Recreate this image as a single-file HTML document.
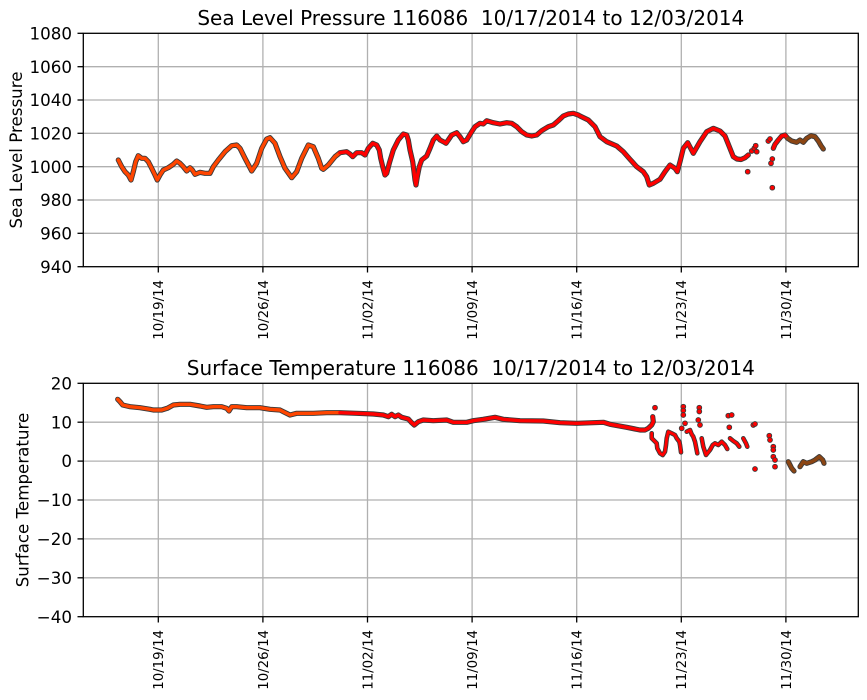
<!DOCTYPE html>
<html><head><meta charset="utf-8"><style>
html,body{margin:0;padding:0;background:#fff;}
svg{display:block;}
text{font-family:"DejaVu Sans","Liberation Sans",sans-serif;fill:#000;}
.g{stroke:#b0b0b0;stroke-width:1.3;}
.sp{stroke:#000;stroke-width:1.3;fill:none;}
.tk{stroke:#000;stroke-width:1.3;}
.o{fill:none;stroke:#3a3a3a;stroke-width:5.2;stroke-linejoin:round;stroke-linecap:round;}
.i{fill:none;stroke-width:3.4;stroke-linejoin:round;stroke-linecap:round;}
.os{fill:none;stroke:#3a3a3a;stroke-width:4.6;stroke-linejoin:round;stroke-linecap:round;}
.is{fill:none;stroke:#ff0000;stroke-width:2.8;stroke-linejoin:round;stroke-linecap:round;}
.d{fill:#ff0000;stroke:#3a3a3a;stroke-width:0.9;}
.yt{font-size:16.7px;text-anchor:end;}
.xt{font-size:13.3px;text-anchor:end;}
.ti{font-size:20px;text-anchor:middle;white-space:pre;}
.yl{font-size:16.7px;text-anchor:middle;}
</style></head><body>
<svg width="867" height="700" viewBox="0 0 867 700" xmlns="http://www.w3.org/2000/svg">
<rect width="867" height="700" fill="#fff"/>

<!-- ===== TOP AXES ===== -->
<g>
<line class="g" x1="83.3" y1="66.7" x2="858.3" y2="66.7"/>
<line class="g" x1="83.3" y1="100" x2="858.3" y2="100"/>
<line class="g" x1="83.3" y1="133.3" x2="858.3" y2="133.3"/>
<line class="g" x1="83.3" y1="166.7" x2="858.3" y2="166.7"/>
<line class="g" x1="83.3" y1="200" x2="858.3" y2="200"/>
<line class="g" x1="83.3" y1="233.3" x2="858.3" y2="233.3"/>
<line class="g" x1="158.3" y1="33.3" x2="158.3" y2="266.7"/>
<line class="g" x1="262.9" y1="33.3" x2="262.9" y2="266.7"/>
<line class="g" x1="367.5" y1="33.3" x2="367.5" y2="266.7"/>
<line class="g" x1="472.1" y1="33.3" x2="472.1" y2="266.7"/>
<line class="g" x1="576.7" y1="33.3" x2="576.7" y2="266.7"/>
<line class="g" x1="681.3" y1="33.3" x2="681.3" y2="266.7"/>
<line class="g" x1="785.9" y1="33.3" x2="785.9" y2="266.7"/>

<polyline class="o" points="118.3,160 121.7,166.7 125,171.7 128.3,175 131,180 133.3,171.7 135.7,161.7 138.3,155.7 141.7,158.3 145,158.3 148.3,161.7 151.7,168.3 155,175 157.3,180 160,175 163.3,170 168.3,167.7 173.3,164.3 176.7,161 180,163.3 183.3,166.7 186.7,171 190,167.7 192.3,170 195,174.3 200,172.3 205,173.3 210,173.3 213.3,166.7 218.3,160 225,151.7 231.7,145.7 236.7,145 240,148.3 245,158.3 251.7,171 256.7,163.3 261.7,148.3 266.7,139 270,137.7 275,143.3 280,156.7 285,168.3 291.7,177.7 296.7,171.7 301.7,158.3 308.3,145 313.3,146.7 318.3,158.3 321.7,168.3 323.3,169.3 328.3,165 335,156.7 340,152.7 346.7,151.7 350,154 352.7,156.7 356.7,152.7 361.7,152.7 365,155 368.3,148.3 372.7,143.3 376.7,145 379.3,150 380.7,158.3 382.7,166.7 385,175 386.7,173.3 389.3,163.3 393.3,150 398.3,140 403.3,134 406.7,135 408.3,140 410,150 412.7,161.7 414,171.7 415,180 416,185 417.3,176.7 419.3,166.7 421.7,160 426.7,156 430,148.3 433.3,140 436.7,136 440,140 443.3,141.7 446,143.3 448.3,140 451.7,135 456.7,132.7 460,136.7 463.3,141.7 466.7,140 471.7,131.7 475,126.7 480,123.3 483.3,124 486.7,120.7 493.3,122.7 500,124 506.7,122.7 511.7,123.3 516.7,126.7 521.7,131.7 526.7,135 531.7,136 536.7,135 541.7,130.7 548.3,126.7 553.3,125 558.3,120.7 563.3,116 568.3,114 573.3,113.3 578.3,115 580,116 588.3,120 595,126.7 600,136.7 606.7,141.7 616.7,146 623.3,151.7 630,159.3 636.7,166.7 643.3,171.7 646.7,176.7 649.3,185 653.3,183.3 660,179.3 665,171.7 670,165 675,168.3 677.3,171.7 680,161.7 683.3,148.3 687.7,142.7 693.3,153.3 700,141.7 706.7,131.7 713.3,128.3 720,131 725,136 729.3,146.7 733.3,156.7 737,159 741,159.5 745,157.7 748.3,155"/>
<polyline class="o" points="773.3,148.3 775,144.3 778.3,140 781.7,136 785,135 787.7,138.3 791.7,141 796.7,142.3 800,140 803.3,142.3 806.7,138.3 811,135.7 815,136.7 818.3,141 821,145.7 823.3,149"/>
<polyline class="i" stroke="#ff4500" points="118.3,160 121.7,166.7 125,171.7 128.3,175 131,180 133.3,171.7 135.7,161.7 138.3,155.7 141.7,158.3 145,158.3 148.3,161.7 151.7,168.3 155,175 157.3,180 160,175 163.3,170 168.3,167.7 173.3,164.3 176.7,161 180,163.3 183.3,166.7 186.7,171 190,167.7 192.3,170 195,174.3 200,172.3 205,173.3 210,173.3 213.3,166.7 218.3,160 225,151.7 231.7,145.7 236.7,145 240,148.3 245,158.3 251.7,171 256.7,163.3 261.7,148.3 266.7,139 270,137.7 275,143.3 280,156.7 285,168.3 291.7,177.7 296.7,171.7 301.7,158.3 308.3,145 313.3,146.7 318.3,158.3 321.7,168.3 323.3,169.3 328.3,165 335,156.7 340,152.7"/>
<polyline class="i" stroke="#ff0000" points="340,152.7 346.7,151.7 350,154 352.7,156.7 356.7,152.7 361.7,152.7 365,155 368.3,148.3 372.7,143.3 376.7,145 379.3,150 380.7,158.3 382.7,166.7 385,175 386.7,173.3 389.3,163.3 393.3,150 398.3,140 403.3,134 406.7,135 408.3,140 410,150 412.7,161.7 414,171.7 415,180 416,185 417.3,176.7 419.3,166.7 421.7,160 426.7,156 430,148.3 433.3,140 436.7,136 440,140 443.3,141.7 446,143.3 448.3,140 451.7,135 456.7,132.7 460,136.7 463.3,141.7 466.7,140 471.7,131.7 475,126.7 480,123.3 483.3,124 486.7,120.7 493.3,122.7 500,124 506.7,122.7 511.7,123.3 516.7,126.7 521.7,131.7 526.7,135 531.7,136 536.7,135 541.7,130.7 548.3,126.7 553.3,125 558.3,120.7 563.3,116 568.3,114 573.3,113.3 578.3,115 580,116 588.3,120 595,126.7 600,136.7 606.7,141.7 616.7,146 623.3,151.7 630,159.3 636.7,166.7 643.3,171.7 646.7,176.7 649.3,185 653.3,183.3 660,179.3 665,171.7 670,165 675,168.3 677.3,171.7 680,161.7 683.3,148.3 687.7,142.7 693.3,153.3 700,141.7 706.7,131.7 713.3,128.3 720,131 725,136 729.3,146.7 733.3,156.7 737,159 741,159.5 745,157.7 748.3,155"/>
<polyline class="i" stroke="#ff0000" points="773.3,148.3 775,144.3 778.3,140 781.7,136 785,135 787.7,138.3"/>
<polyline class="i" stroke="#8b4513" points="787.7,138.3 791.7,141 796.7,142.3 800,140 803.3,142.3 806.7,138.3 811,135.7 815,136.7 818.3,141 821,145.7 823.3,149"/>
<circle class="d" cx="747.7" cy="171.7" r="2.4"/>
<circle class="d" cx="751.7" cy="151" r="2.4"/>
<circle class="d" cx="754.3" cy="148.3" r="2.4"/>
<circle class="d" cx="755.7" cy="145.7" r="2.4"/>
<circle class="d" cx="756.7" cy="151.7" r="2.4"/>
<circle class="d" cx="768.3" cy="141" r="2.4"/>
<circle class="d" cx="770" cy="139" r="2.4"/>
<circle class="d" cx="772.3" cy="159" r="2.4"/>
<circle class="d" cx="771" cy="163.3" r="2.4"/>
<circle class="d" cx="772.3" cy="187.7" r="2.4"/>

<rect class="sp" x="83.3" y="33.3" width="775" height="233.4"/>
<line class="tk" x1="77.5" y1="33.3" x2="83.3" y2="33.3"/>
<line class="tk" x1="77.5" y1="66.7" x2="83.3" y2="66.7"/>
<line class="tk" x1="77.5" y1="100" x2="83.3" y2="100"/>
<line class="tk" x1="77.5" y1="133.3" x2="83.3" y2="133.3"/>
<line class="tk" x1="77.5" y1="166.7" x2="83.3" y2="166.7"/>
<line class="tk" x1="77.5" y1="200" x2="83.3" y2="200"/>
<line class="tk" x1="77.5" y1="233.3" x2="83.3" y2="233.3"/>
<line class="tk" x1="77.5" y1="266.7" x2="83.3" y2="266.7"/>
<text class="yt" x="72" y="39.4">1080</text>
<text class="yt" x="72" y="72.8">1060</text>
<text class="yt" x="72" y="106.1">1040</text>
<text class="yt" x="72" y="139.4">1020</text>
<text class="yt" x="72" y="172.8">1000</text>
<text class="yt" x="72" y="206.1">980</text>
<text class="yt" x="72" y="239.4">960</text>
<text class="yt" x="72" y="272.8">940</text>
<line class="tk" x1="158.3" y1="266.7" x2="158.3" y2="272.5"/>
<line class="tk" x1="262.9" y1="266.7" x2="262.9" y2="272.5"/>
<line class="tk" x1="367.5" y1="266.7" x2="367.5" y2="272.5"/>
<line class="tk" x1="472.1" y1="266.7" x2="472.1" y2="272.5"/>
<line class="tk" x1="576.7" y1="266.7" x2="576.7" y2="272.5"/>
<line class="tk" x1="681.3" y1="266.7" x2="681.3" y2="272.5"/>
<line class="tk" x1="785.9" y1="266.7" x2="785.9" y2="272.5"/>
<text class="xt" transform="translate(163.2,280) rotate(-90)">10/19/14</text>
<text class="xt" transform="translate(267.8,280) rotate(-90)">10/26/14</text>
<text class="xt" transform="translate(372.4,280) rotate(-90)">11/02/14</text>
<text class="xt" transform="translate(477,280) rotate(-90)">11/09/14</text>
<text class="xt" transform="translate(581.6,280) rotate(-90)">11/16/14</text>
<text class="xt" transform="translate(686.2,280) rotate(-90)">11/23/14</text>
<text class="xt" transform="translate(790.8,280) rotate(-90)">11/30/14</text>
<text class="ti" x="470.8" y="25">Sea Level Pressure 116086&#160; 10/17/2014 to 12/03/2014</text>
<text class="yl" transform="translate(22,150) rotate(-90)">Sea Level Pressure</text>
</g>

<!-- ===== BOTTOM AXES ===== -->
<g>
<line class="g" x1="83.3" y1="422.2" x2="858.3" y2="422.2"/>
<line class="g" x1="83.3" y1="461.1" x2="858.3" y2="461.1"/>
<line class="g" x1="83.3" y1="500" x2="858.3" y2="500"/>
<line class="g" x1="83.3" y1="538.9" x2="858.3" y2="538.9"/>
<line class="g" x1="83.3" y1="577.8" x2="858.3" y2="577.8"/>
<line class="g" x1="158.3" y1="383.3" x2="158.3" y2="616.7"/>
<line class="g" x1="262.9" y1="383.3" x2="262.9" y2="616.7"/>
<line class="g" x1="367.5" y1="383.3" x2="367.5" y2="616.7"/>
<line class="g" x1="472.1" y1="383.3" x2="472.1" y2="616.7"/>
<line class="g" x1="576.7" y1="383.3" x2="576.7" y2="616.7"/>
<line class="g" x1="681.3" y1="383.3" x2="681.3" y2="616.7"/>
<line class="g" x1="785.9" y1="383.3" x2="785.9" y2="616.7"/>

<polyline class="o" points="117.7,399.3 120,401.7 122.7,405 130,406.7 140,407.7 150,409.3 153.3,410 161.7,410 167.3,408.3 173.3,405 180,404.3 190,404.3 200,406 206.7,407.3 213.3,406.7 221.7,406.7 226.7,408.3 229,411 231.7,406.7 236.7,406.7 246.7,407.7 260,407.7 270,409.3 280,410 283.3,411.7 290,415 296.7,413.3 313.3,413.3 326.7,412.7 340,412.7 356.7,413.3 373.3,414 383.3,415 388.3,416.7 391.7,414.3 395,416.7 398.3,415 401.7,417.3 408.3,419 411.7,422.7 414.3,425 418.3,421.7 423.3,420 433.3,420.7 446.7,420 453.3,422.3 466.7,422.3 473.3,420.7 483.3,419.3 495,417.3 503.3,419.3 520,420.7 543.3,421 560,422.7 576.7,423.3 593.3,422.7 603.3,422.3 610,424.3 626.7,427.3 640,430 645,430 648.3,428.3 651.7,425 653.3,421.7 652.7,416.7"/>
<polyline class="i" stroke="#ff4500" points="117.7,399.3 120,401.7 122.7,405 130,406.7 140,407.7 150,409.3 153.3,410 161.7,410 167.3,408.3 173.3,405 180,404.3 190,404.3 200,406 206.7,407.3 213.3,406.7 221.7,406.7 226.7,408.3 229,411 231.7,406.7 236.7,406.7 246.7,407.7 260,407.7 270,409.3 280,410 283.3,411.7 290,415 296.7,413.3 313.3,413.3 326.7,412.7 340,412.7"/>
<polyline class="i" stroke="#ff0000" points="340,412.7 356.7,413.3 373.3,414 383.3,415 388.3,416.7 391.7,414.3 395,416.7 398.3,415 401.7,417.3 408.3,419 411.7,422.7 414.3,425 418.3,421.7 423.3,420 433.3,420.7 446.7,420 453.3,422.3 466.7,422.3 473.3,420.7 483.3,419.3 495,417.3 503.3,419.3 520,420.7 543.3,421 560,422.7 576.7,423.3 593.3,422.7 603.3,422.3 610,424.3 626.7,427.3 640,430 645,430 648.3,428.3 651.7,425 653.3,421.7 652.7,416.7"/>

<polyline class="os" points="651.7,433.3 651.7,438.3 656.7,443.3 657.3,448.3 660,453.3 662.7,455 665,451.7 666,445 666.7,438.3 668.3,431.7 671.7,433.3 675,435 676.7,438.3 679.3,441.7 680,445 681,452.3"/>
<polyline class="os" points="686.7,431.7 690,430 691.7,434.3 693.3,436.7 695,441.7 696,446.7 697.3,453.3"/>
<polyline class="os" points="701.7,438.3 703.3,446.7 706,455 710,450 712.7,445 715,443.3 718.3,445 721.7,441.7 725,445 727.3,449"/>
<polyline class="os" points="730,438.3 733.3,441 736.7,443.3 739.3,446.7"/>
<polyline class="os" points="743.3,438.3 746,443.3 747.3,446.7"/>
<polyline class="is" points="651.7,433.3 651.7,438.3 656.7,443.3 657.3,448.3 660,453.3 662.7,455 665,451.7 666,445 666.7,438.3 668.3,431.7 671.7,433.3 675,435 676.7,438.3 679.3,441.7 680,445 681,452.3"/>
<polyline class="is" points="686.7,431.7 690,430 691.7,434.3 693.3,436.7 695,441.7 696,446.7 697.3,453.3"/>
<polyline class="is" points="701.7,438.3 703.3,446.7 706,455 710,450 712.7,445 715,443.3 718.3,445 721.7,441.7 725,445 727.3,449"/>
<polyline class="is" points="730,438.3 733.3,441 736.7,443.3 739.3,446.7"/>
<polyline class="is" points="743.3,438.3 746,443.3 747.3,446.7"/>
<circle class="d" cx="655" cy="407.7" r="2.4"/>
<circle class="d" cx="681.7" cy="428.3" r="2.4"/>
<circle class="d" cx="683.3" cy="406.7" r="2.4"/>
<circle class="d" cx="683.3" cy="410.5" r="2.4"/>
<circle class="d" cx="683.3" cy="415" r="2.4"/>
<circle class="d" cx="685" cy="423.3" r="2.4"/>
<circle class="d" cx="699.3" cy="407.7" r="2.4"/>
<circle class="d" cx="699.3" cy="411.5" r="2.4"/>
<circle class="d" cx="698.3" cy="420" r="2.4"/>
<circle class="d" cx="700" cy="425" r="2.4"/>
<circle class="d" cx="728.3" cy="415.7" r="2.4"/>
<circle class="d" cx="731.7" cy="415" r="2.4"/>
<circle class="d" cx="729.3" cy="427.3" r="2.4"/>
<circle class="d" cx="753.3" cy="425" r="2.4"/>
<circle class="d" cx="755" cy="424" r="2.4"/>
<circle class="d" cx="755" cy="469" r="2.4"/>
<circle class="d" cx="769.3" cy="435.7" r="2.4"/>
<circle class="d" cx="770" cy="440" r="2.4"/>
<circle class="d" cx="773.3" cy="446.7" r="2.4"/>
<circle class="d" cx="773.3" cy="450" r="2.4"/>
<circle class="d" cx="773.3" cy="456.7" r="2.4"/>
<circle class="d" cx="775" cy="460" r="2.4"/>
<circle class="d" cx="775" cy="466.7" r="2.4"/>

<polyline class="o" points="788.3,461.7 790,465 791.7,468.3 794,471"/>
<polyline class="o" points="800,466.7 803.3,461.7 806.7,463.3 811.7,461.7 815,460 819.3,456.7 822.7,460 824,463.3"/>
<polyline class="i" stroke="#8b4513" points="788.3,461.7 790,465 791.7,468.3 794,471"/>
<polyline class="i" stroke="#8b4513" points="800,466.7 803.3,461.7 806.7,463.3 811.7,461.7 815,460 819.3,456.7 822.7,460 824,463.3"/>

<rect class="sp" x="83.3" y="383.3" width="775" height="233.4"/>
<line class="tk" x1="77.5" y1="383.3" x2="83.3" y2="383.3"/>
<line class="tk" x1="77.5" y1="422.2" x2="83.3" y2="422.2"/>
<line class="tk" x1="77.5" y1="461.1" x2="83.3" y2="461.1"/>
<line class="tk" x1="77.5" y1="500" x2="83.3" y2="500"/>
<line class="tk" x1="77.5" y1="538.9" x2="83.3" y2="538.9"/>
<line class="tk" x1="77.5" y1="577.8" x2="83.3" y2="577.8"/>
<line class="tk" x1="77.5" y1="616.7" x2="83.3" y2="616.7"/>
<text class="yt" x="72" y="389.4">20</text>
<text class="yt" x="72" y="428.3">10</text>
<text class="yt" x="72" y="467.2">0</text>
<text class="yt" x="72" y="506.1">−10</text>
<text class="yt" x="72" y="545">−20</text>
<text class="yt" x="72" y="583.9">−30</text>
<text class="yt" x="72" y="622.8">−40</text>
<line class="tk" x1="158.3" y1="616.7" x2="158.3" y2="622.5"/>
<line class="tk" x1="262.9" y1="616.7" x2="262.9" y2="622.5"/>
<line class="tk" x1="367.5" y1="616.7" x2="367.5" y2="622.5"/>
<line class="tk" x1="472.1" y1="616.7" x2="472.1" y2="622.5"/>
<line class="tk" x1="576.7" y1="616.7" x2="576.7" y2="622.5"/>
<line class="tk" x1="681.3" y1="616.7" x2="681.3" y2="622.5"/>
<line class="tk" x1="785.9" y1="616.7" x2="785.9" y2="622.5"/>
<text class="xt" transform="translate(163.2,630) rotate(-90)">10/19/14</text>
<text class="xt" transform="translate(267.8,630) rotate(-90)">10/26/14</text>
<text class="xt" transform="translate(372.4,630) rotate(-90)">11/02/14</text>
<text class="xt" transform="translate(477,630) rotate(-90)">11/09/14</text>
<text class="xt" transform="translate(581.6,630) rotate(-90)">11/16/14</text>
<text class="xt" transform="translate(686.2,630) rotate(-90)">11/23/14</text>
<text class="xt" transform="translate(790.8,630) rotate(-90)">11/30/14</text>
<text class="ti" x="470.8" y="375">Surface Temperature 116086&#160; 10/17/2014 to 12/03/2014</text>
<text class="yl" transform="translate(28.5,500) rotate(-90)">Surface Temperature</text>
</g>
</svg>
</body></html>
